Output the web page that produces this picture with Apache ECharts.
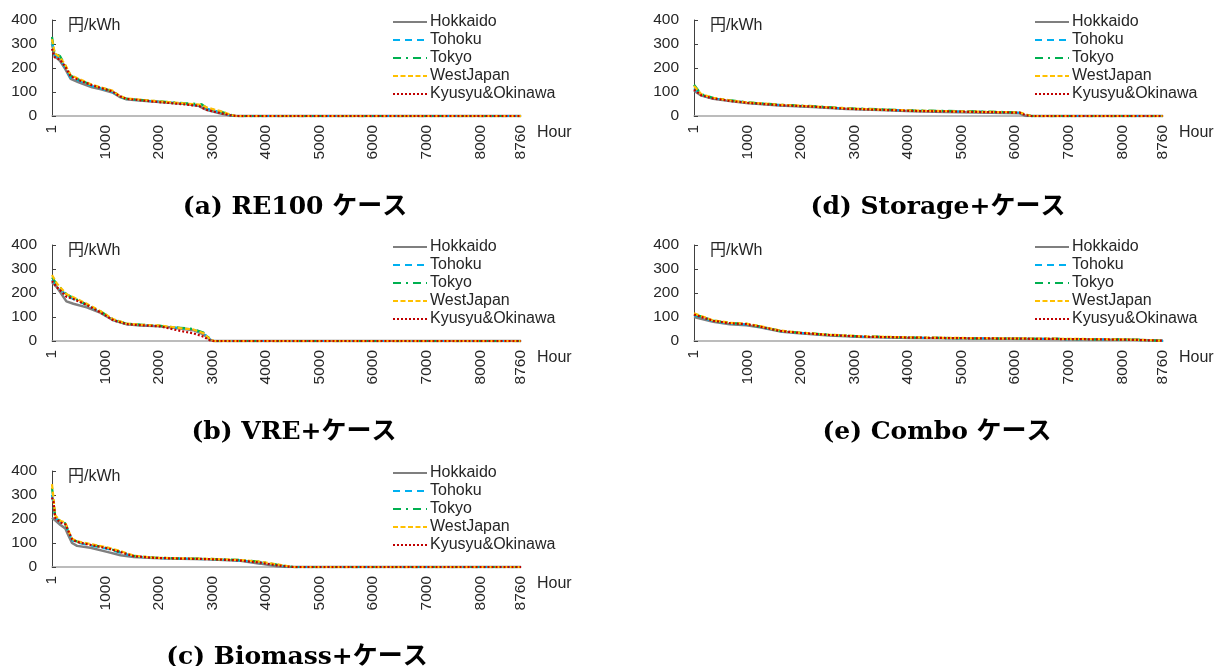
<!DOCTYPE html>
<html>
<head>
<meta charset="utf-8">
<script src="https://cdn.jsdelivr.net/npm/echarts@6/dist/echarts.min.js"></script>
<style>html,body{margin:0;padding:0;background:#fff}#c{width:1222px;height:666px}</style>
</head>
<body>
<div id="c"></div>
<script>
// ---- data ----
const seriesNames = ['Hokkaido', 'Tohoku', 'Tokyo', 'WestJapan', 'Kyusyu&Okinawa'];
const panelTitles = ['(a) RE100 ケース', '(b) VRE+ケース', '(c) Biomass+ケース', '(d) Storage+ケース', '(e) Combo ケース'];
const xTickLabels = [1, 1000, 2000, 3000, 4000, 5000, 6000, 7000, 8000, 8760];
const yTicks = [0, 100, 200, 300, 400];
const unitLabel = '円/kWh';
const xName = 'Hour';

// (a) RE100
const hoursA     = [1, 50, 150, 250, 350, 500, 750, 900, 1130, 1260, 1380, 1640, 2000, 2500, 2750, 2800, 2900, 3150, 3330, 3430, 8760];
const hokkaidoA  = [300, 250, 230, 195, 155, 140, 120, 112, 98, 80, 70, 65, 58, 50, 42, 35, 25, 10, 2, 0, 0];
const tohokuA    = [310, 255, 240, 200, 160, 148, 125, 116, 100, 82, 71, 66, 60, 50, 45, 40, 30, 15, 4, 0, 0];
const tokyoA     = [330, 260, 250, 210, 168, 152, 128, 118, 104, 84, 72, 67, 61, 53, 50, 48, 32, 18, 6, 0, 0];
const westA      = [320, 262, 245, 212, 170, 155, 130, 120, 106, 85, 73, 68, 61, 52, 47, 45, 35, 20, 6, 0, 0];
const kyusyuA    = [280, 245, 235, 205, 165, 150, 128, 118, 102, 83, 72, 66, 58, 48, 42, 35, 25, 12, 3, 0, 0];

// (b) VRE+
const hoursB     = [1, 90, 270, 400, 650, 900, 1150, 1400, 1650, 2020, 2400, 2640, 2830, 2950, 3020, 8760];
const hokkaidoB  = [245, 225, 165, 155, 140, 118, 86, 70, 65, 61, 52, 45, 28, 5, 0, 0];
const tohokuB    = [255, 232, 190, 175, 150, 122, 88, 71, 67, 63, 53, 48, 32, 8, 0, 0];
const tokyoB     = [265, 238, 195, 180, 152, 124, 89, 72, 68, 63, 55, 50, 35, 10, 0, 0];
const westB      = [275, 240, 195, 182, 155, 125, 90, 72, 68, 64, 54, 48, 32, 8, 0, 0];
const kyusyuB    = [250, 225, 185, 175, 150, 120, 86, 70, 66, 61, 42, 32, 18, 3, 0, 0];

// (c) Biomass+
const hoursC     = [1, 30, 60, 160, 250, 310, 375, 470, 720, 1030, 1280, 1530, 1900, 2400, 2900, 3520, 3890, 4200, 4390, 4510, 8760];
const hokkaidoC  = [205, 200, 195, 175, 160, 130, 100, 88, 80, 63, 49, 42, 37, 34, 32, 26, 14, 3, 0, 0, 0];
const tohokuC    = [300, 260, 205, 188, 178, 145, 112, 102, 90, 76, 60, 44, 38, 35, 33, 27, 19, 8, 2, 0, 0];
const tokyoC     = [330, 280, 210, 190, 182, 148, 116, 106, 94, 79, 63, 46, 39, 36, 34, 29, 22, 10, 3, 0, 0];
const westC      = [345, 285, 215, 192, 185, 150, 118, 107, 96, 82, 66, 47, 39, 36, 34, 29, 22, 11, 4, 0, 0];
const kyusyuC    = [290, 270, 205, 185, 178, 148, 115, 104, 92, 78, 62, 45, 38, 35, 33, 27, 18, 7, 2, 0, 0];

// (d) Storage+
const hoursD     = [1, 140, 360, 670, 980, 1600, 2220, 2850, 3470, 4090, 4710, 5270, 6080, 6200, 6300, 8760];
const hokkaidoD  = [105, 85, 72, 62, 54, 44, 37, 29, 25, 20, 17, 15, 11, 0, 0, 0];
const tohokuD    = [115, 88, 74, 64, 56, 46, 39, 31, 27, 22, 20, 18, 14, 3, 0, 0];
const tokyoD     = [130, 90, 76, 66, 57, 47, 41, 32, 28, 23, 21, 19, 15, 5, 0, 0];
const westD      = [125, 90, 76, 65, 57, 47, 40, 32, 27, 23, 20, 18, 15, 6, 0, 0];
const kyusyuD    = [110, 86, 73, 63, 55, 45, 39, 30, 26, 21, 19, 17, 14, 3, 0, 0];

// (e) Combo
const hoursE     = [1, 360, 670, 980, 1230, 1600, 1910, 2530, 3160, 4090, 5270, 6500, 7500, 8200, 8760];
const hokkaidoE  = [100, 80, 70, 66, 57, 40, 33, 23, 17, 13, 10, 8, 6, 5, 1];
const tohokuE    = [108, 83, 73, 69, 59, 42, 35, 25, 18, 14, 11, 9, 7, 5, 1];
const tokyoE     = [112, 85, 75, 71, 61, 43, 36, 26, 19, 14, 11, 9, 7, 6, 1];
const westE      = [115, 86, 76, 72, 62, 44, 36, 26, 19, 15, 12, 10, 8, 6, 1];
const kyusyuE    = [110, 84, 74, 70, 60, 42, 35, 25, 18, 14, 11, 9, 7, 5, 1];

// ---- layout / styles ----
const panelData = [
  { hours: hoursA, vals: [hokkaidoA, tohokuA, tokyoA, westA, kyusyuA] },
  { hours: hoursB, vals: [hokkaidoB, tohokuB, tokyoB, westB, kyusyuB] },
  { hours: hoursC, vals: [hokkaidoC, tohokuC, tokyoC, westC, kyusyuC] },
  { hours: hoursD, vals: [hokkaidoD, tohokuD, tokyoD, westD, kyusyuD] },
  { hours: hoursE, vals: [hokkaidoE, tohokuE, tokyoE, westE, kyusyuE] }
];
const layout = [
  { left: 52,  top: 20,  titleX: 290, titleY: 190 },
  { left: 52,  top: 245, titleX: 289, titleY: 415 },
  { left: 52,  top: 471, titleX: 292, titleY: 640 },
  { left: 694, top: 20,  titleX: 933, titleY: 190 },
  { left: 694, top: 245, titleX: 932, titleY: 415 }
];
const plotW = 469, plotH = 96;
const lineStyles = [
  { color: '#7f7f7f', width: 2.5, type: 'solid' },
  { color: '#00b0f0', width: 2.25, type: [7, 5] },
  { color: '#00b050', width: 2.25, type: [8, 5, 2, 5] },
  { color: '#ffc000', width: 2.25, type: [5, 2.5] },
  { color: '#c00000', width: 2.25, type: [2, 2] }
];
const sansFont = '"Liberation Sans", Arial, "Noto Sans CJK JP", sans-serif';
const labelColor = '#262626';

const grid = [], xAxis = [], yAxis = [], series = [], title = [], legend = [], graphic = [];
layout.forEach((L, p) => {
  grid.push({ left: L.left, top: L.top, width: plotW, height: plotH, containLabel: false });
  xAxis.push({
    gridIndex: p, type: 'value', min: 1, max: 8760,
    axisLine: { show: true, onZero: false, lineStyle: { color: '#a6a6a6', width: 1.5 } },
    axisTick: { show: false },
    splitLine: { show: false },
    axisLabel: {
      customValues: xTickLabels, rotate: 90, margin: 9,
      formatter: v => String(v),
      fontFamily: sansFont, fontSize: 15.5, color: labelColor, showMinLabel: true, showMaxLabel: true
    }
  });
  yAxis.push({
    gridIndex: p, type: 'value', min: yTicks[0], max: yTicks[yTicks.length - 1], interval: 100,
    axisLine: { show: true, lineStyle: { color: '#404040', width: 1 } },
    axisTick: { show: true, inside: true, length: 4, lineStyle: { color: '#404040' } },
    splitLine: { show: false },
    axisLabel: { margin: 15, fontFamily: sansFont, fontSize: 15.5, color: labelColor }
  });
  const d = panelData[p];
  seriesNames.forEach((name, s) => {
    series.push({
      name: name, type: 'line', xAxisIndex: p, yAxisIndex: p,
      symbol: 'none', showSymbol: false, animation: false,
      lineStyle: lineStyles[s], itemStyle: { color: lineStyles[s].color },
      data: d.hours.map((h, i) => [h, d.vals[s][i]])
    });
  });
  title.push({
    text: panelTitles[p], left: L.titleX, top: L.titleY, textAlign: 'center',
    textStyle: { fontFamily: '"DejaVu Serif", "Noto Sans CJK JP", serif', fontWeight: 'bold', fontSize: 25, color: '#000' }
  });
  legend.push({
    data: seriesNames, orient: 'vertical', left: L.left + 340, top: L.top - 6, padding: 0,
    itemWidth: 34, itemHeight: 14, itemGap: 2,
    itemStyle: { opacity: 0 },
    textStyle: { fontFamily: sansFont, fontSize: 16, color: labelColor, padding: [0, 0, 0, -2] }
  });
  graphic.push({
    type: 'text', left: L.left + 16, top: L.top - 2,
    style: { text: unitLabel, font: '16px ' + sansFont, fill: labelColor }
  });
  graphic.push({
    type: 'text', left: L.left + 485, top: L.top + 105,
    style: { text: xName, font: '16px ' + sansFont, fill: labelColor }
  });
});

const chart = echarts.init(document.getElementById('c'), null, { renderer: 'canvas' });
chart.setOption({ animation: false, backgroundColor: '#fff', grid, xAxis, yAxis, series, title, legend, graphic });
</script>
</body>
</html>
